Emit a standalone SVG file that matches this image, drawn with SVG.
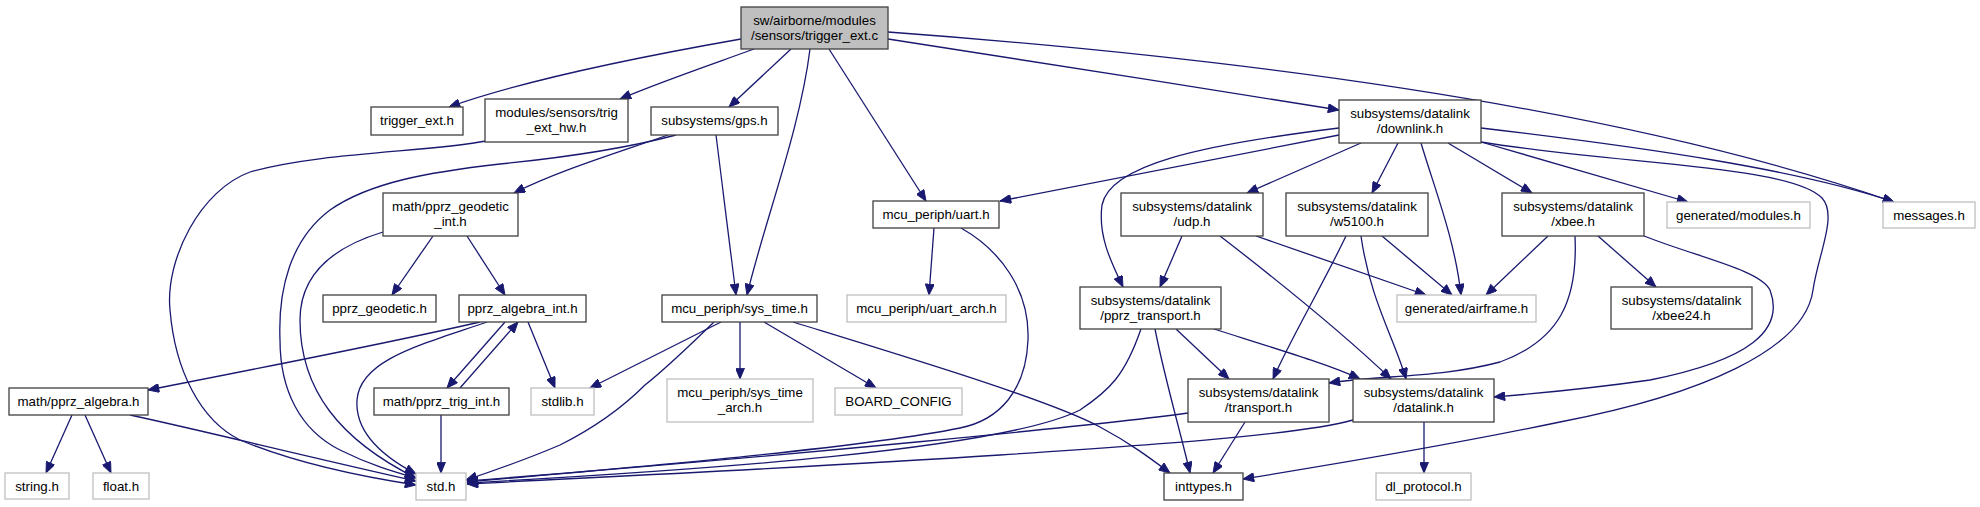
<svg xmlns="http://www.w3.org/2000/svg" width="1980" height="507" viewBox="0 0 1980 507">
<style>
.n rect{fill:#fff;stroke:#404040;stroke-width:1.3}
.g rect{fill:#fff;stroke:#bfbfbf;stroke-width:1.3}
.m rect{fill:#bfbfbf;stroke:#404040;stroke-width:1.3}
text{font-family:"Liberation Sans",Helvetica,Arial,sans-serif;font-size:13.3px;fill:#000;text-anchor:middle}
#edges path{fill:none;stroke:#191970;stroke-width:1.3;marker-end:url(#ah)}
</style>
<defs>
<marker id="ah" viewBox="0 0 12 10" refX="12" refY="5" markerWidth="12" markerHeight="9" markerUnits="userSpaceOnUse" orient="auto">
<path d="M0,0 L12,5 L0,10 z" fill="#191970" stroke="#191970" stroke-width="1"/>
</marker>
</defs>
<rect width="1980" height="507" fill="#fff"/>
<g id="edges">
<path d="M741,39 C650,55 530,78 449,107"/>
<path d="M754,49 C710,65 660,82 620,99"/>
<path d="M791,49 L729,107"/>
<path d="M810,49 C800,130 765,220 747,295"/>
<path d="M829,49 L926,201"/>
<path d="M888,39 C1000,57 1200,87 1339,110"/>
<path d="M888,32 C1200,55 1600,100 1894,202"/>
<path d="M486,141 C430,152 320,152 250,172 C200,190 165,260 170,310 C175,370 200,420 240,440 C300,465 370,478 416,485"/>
<path d="M668,135 C620,152 560,170 514,193"/>
<path d="M676,135 C620,150 560,158 500,164 C430,172 370,182 330,210 C290,240 278,290 280,340 C280,390 300,430 340,450 C370,465 395,472 416,478"/>
<path d="M716,135 L736,295"/>
<path d="M1339,135 L1000,201"/>
<path d="M1339,128 C1200,145 1110,165 1102,205 C1098,235 1110,260 1123,287"/>
<path d="M1361,143 L1247,193"/>
<path d="M1398,143 L1372,193"/>
<path d="M1421,143 C1435,190 1455,240 1461,295"/>
<path d="M1448,143 L1532,193"/>
<path d="M1481,142 L1688,202"/>
<path d="M1481,128 C1650,148 1800,170 1894,202"/>
<path d="M1481,142 C1620,165 1790,165 1822,198 C1838,215 1818,255 1813,290 C1805,350 1700,395 1560,422 C1450,445 1330,465 1243,479"/>
<path d="M433,236 L392,295"/>
<path d="M467,236 L505,295"/>
<path d="M383,232 C340,245 300,270 300,320 C300,390 340,440 416,478"/>
<path d="M480,322 C380,345 250,370 148,390"/>
<path d="M487,322 C420,345 360,360 357,400 C355,430 380,455 416,474"/>
<path d="M505,322 L447,388"/>
<path d="M460,388 L518,322"/>
<path d="M528,322 L555,388"/>
<path d="M441,415 L441,473"/>
<path d="M72,415 L46,473"/>
<path d="M85,415 L111,473"/>
<path d="M130,415 C200,430 300,455 416,481"/>
<path d="M721,322 L590,388"/>
<path d="M714,322 C690,345 670,365 645,385 C620,410 590,430 560,445 C520,462 490,472 466,480"/>
<path d="M740,322 L740,379"/>
<path d="M764,322 L876,388"/>
<path d="M793,322 C900,355 1050,400 1100,427 C1130,443 1150,458 1170,473"/>
<path d="M934,228 L929,295"/>
<path d="M961,228 C1000,250 1030,290 1028,340 C1026,390 1000,420 960,428 C850,450 600,470 467,482"/>
<path d="M1182,236 L1160,287"/>
<path d="M1256,236 L1426,295"/>
<path d="M1220,236 C1290,290 1350,340 1391,379"/>
<path d="M1382,236 L1452,295"/>
<path d="M1346,236 C1320,290 1290,340 1273,379"/>
<path d="M1361,236 C1370,300 1395,340 1406,379"/>
<path d="M1548,236 L1486,295"/>
<path d="M1598,236 L1656,287"/>
<path d="M1575,236 C1578,300 1560,340 1500,362 C1440,378 1380,375 1329,383"/>
<path d="M1644,236 C1700,258 1760,270 1770,290 C1785,330 1750,360 1650,380 C1580,390 1530,394 1494,397"/>
<path d="M1141,329 C1125,375 1110,390 1080,410 C1000,450 700,470 467,483"/>
<path d="M1155,329 C1165,380 1180,430 1190,473"/>
<path d="M1176,329 L1229,379"/>
<path d="M1214,329 C1280,350 1330,365 1360,379"/>
<path d="M1188,413 C1100,425 800,455 467,481"/>
<path d="M1245,422 L1213,473"/>
<path d="M1353,420 C1300,435 1150,445 1000,455 C800,468 600,477 467,484"/>
<path d="M1424,422 L1424,473"/>
</g>
<g id="node_main" class="m"><rect x="741" y="7" width="147" height="42"/><text x="814.5" y="25">sw/airborne/modules</text><text x="814.5" y="40">/sensors/trigger_ext.c</text></g>
<g id="node_trigger_ext_h" class="n"><rect x="371" y="107" width="92" height="28"/><text x="417" y="125">trigger_ext.h</text></g>
<g id="node_trig_ext_hw" class="n"><rect x="485" y="99" width="143" height="43"/><text x="556.5" y="117">modules/sensors/trig</text><text x="556.5" y="132">_ext_hw.h</text></g>
<g id="node_gps" class="n"><rect x="651" y="107" width="127" height="28"/><text x="714.5" y="125">subsystems/gps.h</text></g>
<g id="node_downlink" class="n"><rect x="1339" y="100" width="142" height="43"/><text x="1410" y="118">subsystems/datalink</text><text x="1410" y="133">/downlink.h</text></g>
<g id="node_messages" class="g"><rect x="1883" y="202" width="92" height="26"/><text x="1929" y="219.5">messages.h</text></g>
<g id="node_geodetic_int" class="n"><rect x="383" y="193" width="135" height="43"/><text x="450.5" y="211">math/pprz_geodetic</text><text x="450.5" y="226">_int.h</text></g>
<g id="node_sys_time" class="n"><rect x="662" y="295" width="155" height="27"/><text x="739.5" y="313">mcu_periph/sys_time.h</text></g>
<g id="node_uart" class="n"><rect x="873" y="201" width="126" height="27"/><text x="936" y="219">mcu_periph/uart.h</text></g>
<g id="node_udp" class="n"><rect x="1121" y="193" width="142" height="43"/><text x="1192" y="211">subsystems/datalink</text><text x="1192" y="226">/udp.h</text></g>
<g id="node_w5100" class="n"><rect x="1286" y="193" width="142" height="43"/><text x="1357" y="211">subsystems/datalink</text><text x="1357" y="226">/w5100.h</text></g>
<g id="node_xbee" class="n"><rect x="1502" y="193" width="142" height="43"/><text x="1573" y="211">subsystems/datalink</text><text x="1573" y="226">/xbee.h</text></g>
<g id="node_modules" class="g"><rect x="1667" y="202" width="143" height="26"/><text x="1738.5" y="219.5">generated/modules.h</text></g>
<g id="node_pprz_geodetic" class="n"><rect x="323" y="295" width="113" height="27"/><text x="379.5" y="313">pprz_geodetic.h</text></g>
<g id="node_algebra_int" class="n"><rect x="459" y="295" width="127" height="27"/><text x="522.5" y="313">pprz_algebra_int.h</text></g>
<g id="node_uart_arch" class="g"><rect x="847" y="295" width="159" height="27"/><text x="926.5" y="313">mcu_periph/uart_arch.h</text></g>
<g id="node_pprz_transport" class="n"><rect x="1080" y="287" width="141" height="42"/><text x="1150.5" y="305">subsystems/datalink</text><text x="1150.5" y="320">/pprz_transport.h</text></g>
<g id="node_airframe" class="g"><rect x="1397" y="295" width="139" height="27"/><text x="1466.5" y="313">generated/airframe.h</text></g>
<g id="node_xbee24" class="n"><rect x="1611" y="287" width="141" height="42"/><text x="1681.5" y="305">subsystems/datalink</text><text x="1681.5" y="320">/xbee24.h</text></g>
<g id="node_pprz_algebra" class="n"><rect x="9" y="388" width="139" height="27"/><text x="78.5" y="406">math/pprz_algebra.h</text></g>
<g id="node_trig_int" class="n"><rect x="374" y="388" width="135" height="27"/><text x="441.5" y="406">math/pprz_trig_int.h</text></g>
<g id="node_stdlib" class="g"><rect x="531" y="388" width="63" height="27"/><text x="562.5" y="406">stdlib.h</text></g>
<g id="node_sys_time_arch" class="g"><rect x="667" y="379" width="146" height="43"/><text x="740" y="397">mcu_periph/sys_time</text><text x="740" y="412">_arch.h</text></g>
<g id="node_board" class="g"><rect x="835" y="388" width="127" height="27"/><text x="898.5" y="406">BOARD_CONFIG</text></g>
<g id="node_transport" class="n"><rect x="1188" y="379" width="141" height="43"/><text x="1258.5" y="397">subsystems/datalink</text><text x="1258.5" y="412">/transport.h</text></g>
<g id="node_datalink" class="n"><rect x="1353" y="379" width="141" height="43"/><text x="1423.5" y="397">subsystems/datalink</text><text x="1423.5" y="412">/datalink.h</text></g>
<g id="node_string" class="g"><rect x="5" y="473" width="64" height="26"/><text x="37" y="490.5">string.h</text></g>
<g id="node_float" class="g"><rect x="93" y="473" width="56" height="26"/><text x="121" y="490.5">float.h</text></g>
<g id="node_std" class="g"><rect x="416" y="473" width="50" height="27"/><text x="441" y="491">std.h</text></g>
<g id="node_inttypes" class="n"><rect x="1164" y="473" width="79" height="27"/><text x="1203.5" y="491">inttypes.h</text></g>
<g id="node_dl_protocol" class="g"><rect x="1376" y="473" width="95" height="27"/><text x="1423.5" y="491">dl_protocol.h</text></g>
</svg>
